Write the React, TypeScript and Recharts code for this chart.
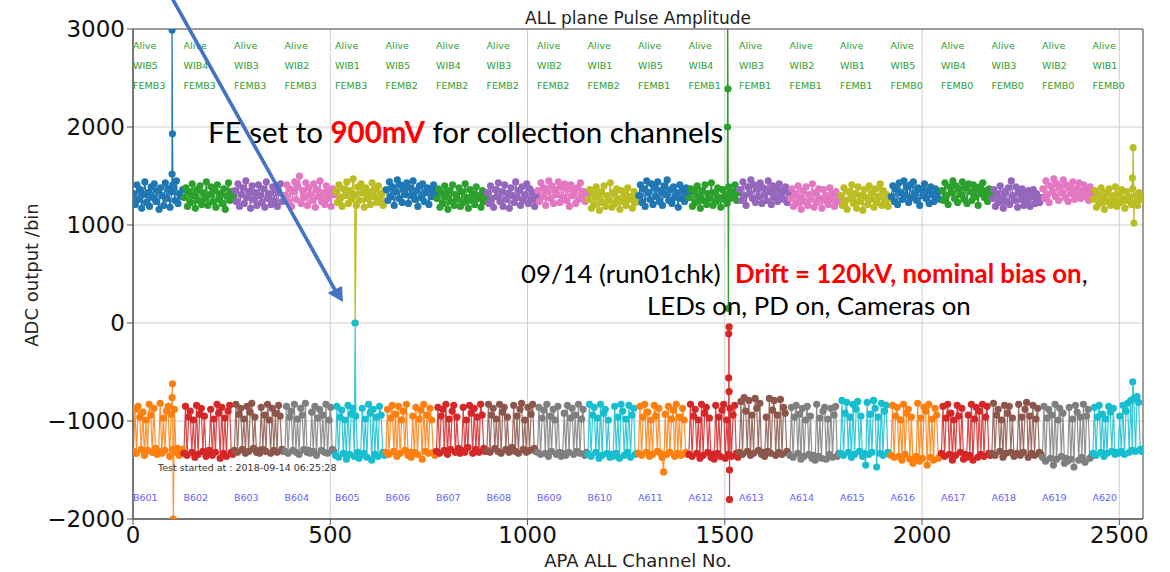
import React from 'react';
import { ComposedChart, Line, Scatter, XAxis, YAxis, CartesianGrid, ReferenceArea } from 'recharts';

// ---------- categories / labels ----------
const segmentStarts = [0, 128, 256, 384, 512, 640, 768, 896, 1024, 1152, 1280, 1408, 1536, 1664, 1792, 1920, 2048, 2176, 2304, 2432];
const statusLabels = ['Alive', 'Alive', 'Alive', 'Alive', 'Alive', 'Alive', 'Alive', 'Alive', 'Alive', 'Alive', 'Alive', 'Alive', 'Alive', 'Alive', 'Alive', 'Alive', 'Alive', 'Alive', 'Alive', 'Alive'];
const wibLabels = ['WIB5', 'WIB4', 'WIB3', 'WIB2', 'WIB1', 'WIB5', 'WIB4', 'WIB3', 'WIB2', 'WIB1', 'WIB5', 'WIB4', 'WIB3', 'WIB2', 'WIB1', 'WIB5', 'WIB4', 'WIB3', 'WIB2', 'WIB1'];
const fembLabels = ['FEMB3', 'FEMB3', 'FEMB3', 'FEMB3', 'FEMB3', 'FEMB2', 'FEMB2', 'FEMB2', 'FEMB2', 'FEMB2', 'FEMB1', 'FEMB1', 'FEMB1', 'FEMB1', 'FEMB1', 'FEMB0', 'FEMB0', 'FEMB0', 'FEMB0', 'FEMB0'];
const apaLabels = ['B601', 'B602', 'B603', 'B604', 'B605', 'B606', 'B607', 'B608', 'B609', 'B610', 'A611', 'A612', 'A613', 'A614', 'A615', 'A616', 'A617', 'A618', 'A619', 'A620'];
const xTicks = [0, 500, 1000, 1500, 2000, 2500];
const yTicks = [-2000, -1000, 0, 1000, 2000, 3000];

const upperColors = ['#1f77b4', '#2ca02c', '#9467bd', '#e377c2', '#bcbd22'];
const lowerColors = ['#ff7f0e', '#d62728', '#8c564b', '#7f7f7f', '#17becf'];

// channel offsets (within a 128-channel FEMB) of the sampled values
const upperOffsets = [2, 6, 10, 14, 18, 22, 26, 30, 34, 38, 42, 46, 50, 54, 58, 62, 66, 70, 74, 78, 82, 86, 90, 94, 98, 102, 106, 110, 114, 118, 122, 126];
const lowerOffsets = [1, 5, 9, 13, 17, 21, 25, 29, 33, 37, 41, 45, 49, 53, 57, 61, 65, 69, 73, 77, 81, 85, 89, 93, 97, 101, 105, 109, 113, 117, 121, 125];

// ---------- upper band (positive pulse amplitude) ----------
const upperValues: number[][] = [
  [1320, 1210, 1410, 1260, 1360, 1170, 1310, 1440, 1230, 1330, 1190, 1390, 1280, 1420, 1240, 1350, 1160, 1380, 1300, 1200, 1430, 1270, 1370, 1180, 1340, 1400, 1250, 1450, 1220, 1320, 1290, 1360],
  [1280, 1380, 1190, 1340, 1230, 1420, 1300, 1170, 1360, 1250, 1400, 1210, 1330, 1270, 1440, 1200, 1310, 1390, 1240, 1350, 1180, 1410, 1260, 1320, 1220, 1370, 1160, 1300, 1430, 1250, 1340, 1290],
  [1350, 1240, 1420, 1190, 1310, 1380, 1220, 1450, 1280, 1340, 1170, 1400, 1260, 1330, 1200, 1410, 1300, 1230, 1370, 1180, 1440, 1270, 1320, 1210, 1390, 1250, 1360, 1190, 1330, 1420, 1240, 1300],
  [1300, 1410, 1230, 1370, 1190, 1340, 1440, 1260, 1390, 1500, 1220, 1350, 1280, 1430, 1200, 1380, 1310, 1250, 1420, 1180, 1360, 1290, 1450, 1240, 1330, 1210, 1400, 1270, 1340, 1190, 1370, 1310],
  [1340, 1230, 1410, 1280, 1190, 1370, 1300, 1440, 1220, 1350, 1260, 1470, 1310, 1200, 1390, 1250, 1420, 1330, 1180, 1380, 1270, 1340, 1210, 1430, 1290, 1360, 1230, 1400, 1260, 1320, 1200, 1350],
  [1360, 1250, 1440, 1290, 1390, 1200, 1340, 1460, 1270, 1410, 1230, 1370, 1310, 1430, 1220, 1380, 1300, 1450, 1260, 1350, 1190, 1400, 1280, 1420, 1240, 1330, 1380, 1210, 1360, 1290, 1410, 1320],
  [1270, 1370, 1180, 1330, 1220, 1400, 1290, 1160, 1350, 1240, 1410, 1200, 1310, 1260, 1380, 1190, 1340, 1230, 1420, 1280, 1170, 1360, 1250, 1320, 1210, 1390, 1270, 1300, 1180, 1350, 1240, 1290],
  [1330, 1220, 1400, 1270, 1180, 1360, 1290, 1430, 1240, 1340, 1190, 1410, 1260, 1320, 1170, 1380, 1300, 1230, 1440, 1280, 1350, 1200, 1390, 1250, 1310, 1420, 1220, 1370, 1260, 1330, 1190, 1300],
  [1350, 1240, 1430, 1290, 1380, 1200, 1340, 1450, 1270, 1400, 1220, 1360, 1310, 1440, 1230, 1390, 1280, 1420, 1250, 1370, 1190, 1410, 1300, 1350, 1220, 1380, 1260, 1430, 1290, 1340, 1240, 1310],
  [1260, 1360, 1170, 1320, 1210, 1390, 1280, 1150, 1340, 1230, 1400, 1190, 1300, 1250, 1430, 1180, 1330, 1220, 1370, 1270, 1160, 1350, 1240, 1310, 1200, 1380, 1260, 1290, 1170, 1340, 1230, 1280],
  [1300, 1410, 1230, 1370, 1190, 1450, 1330, 1260, 1420, 1210, 1380, 1290, 1440, 1240, 1350, 1200, 1400, 1310, 1460, 1250, 1360, 1220, 1390, 1280, 1330, 1180, 1410, 1270, 1350, 1240, 1380, 1310],
  [1280, 1370, 1190, 1340, 1230, 1400, 1290, 1170, 1350, 1250, 1410, 1210, 1320, 1270, 1430, 1200, 1330, 1240, 1380, 1280, 1180, 1360, 1260, 1310, 1220, 1390, 1270, 1340, 1300, 1410, 1250, 1330],
  [1360, 1250, 1440, 1300, 1200, 1390, 1320, 1460, 1270, 1410, 1230, 1370, 1290, 1430, 1220, 1380, 1310, 1250, 1450, 1340, 1210, 1400, 1280, 1360, 1240, 1420, 1300, 1350, 1260, 1390, 1230, 1330],
  [1270, 1370, 1190, 1320, 1220, 1400, 1280, 1160, 1350, 1240, 1390, 1200, 1310, 1260, 1420, 1180, 1330, 1230, 1370, 1270, 1170, 1360, 1250, 1300, 1210, 1380, 1260, 1320, 1190, 1340, 1240, 1280],
  [1300, 1200, 1380, 1250, 1160, 1340, 1270, 1410, 1220, 1320, 1170, 1390, 1240, 1300, 1150, 1360, 1280, 1210, 1400, 1260, 1330, 1180, 1370, 1230, 1290, 1420, 1200, 1350, 1240, 1310, 1190, 1270],
  [1290, 1400, 1240, 1370, 1210, 1430, 1330, 1260, 1450, 1300, 1390, 1230, 1410, 1280, 1440, 1320, 1250, 1380, 1200, 1360, 1300, 1420, 1270, 1350, 1220, 1390, 1310, 1240, 1370, 1290, 1340, 1260],
  [1350, 1250, 1430, 1300, 1210, 1390, 1330, 1450, 1270, 1400, 1230, 1370, 1310, 1440, 1260, 1380, 1220, 1420, 1340, 1250, 1410, 1290, 1360, 1200, 1390, 1320, 1430, 1280, 1350, 1240, 1370, 1310],
  [1270, 1360, 1190, 1320, 1230, 1400, 1280, 1170, 1340, 1240, 1380, 1210, 1450, 1300, 1250, 1390, 1180, 1330, 1260, 1370, 1200, 1310, 1240, 1350, 1190, 1290, 1360, 1220, 1320, 1270, 1230, 1280],
  [1370, 1270, 1450, 1310, 1230, 1400, 1340, 1470, 1290, 1420, 1250, 1390, 1330, 1460, 1280, 1410, 1240, 1380, 1320, 1440, 1260, 1370, 1300, 1430, 1270, 1350, 1410, 1290, 1360, 1250, 1390, 1320],
  [1260, 1350, 1180, 1310, 1220, 1380, 1270, 1160, 1330, 1240, 1370, 1200, 1300, 1250, 1390, 1190, 1320, 1230, 1360, 1270, 1170, 1340, 1250, 1290, 1210, 1370, 1240, 1300, 1200, 1330, 1260, 1280],
];

// ---------- lower band (negative pulse amplitude) ----------
const lowerValues: number[][] = [
  [-1310, -880, -1330, -850, -960, -1290, -910, -1350, -990, -1300, -830, -940, -1320, -870, -1280, -1340, -1310, -820, -1330, -970, -1300, -900, -850, -1360, -930, -1290, -880, -1320, -1280, -1350, -1300, -1290],
  [-1330, -850, -1350, -960, -900, -1320, -990, -1370, -840, -1340, -930, -870, -1310, -950, -1360, -1330, -1300, -880, -1350, -980, -1320, -830, -920, -1380, -860, -1330, -970, -1360, -900, -840, -1320, -1340],
  [-1300, -830, -1320, -930, -870, -1290, -980, -1330, -850, -1310, -910, -820, -1280, -960, -1320, -1300, -1330, -860, -1290, -940, -1310, -830, -990, -1330, -870, -1300, -920, -1320, -840, -950, -1290, -1310],
  [-1310, -850, -1330, -960, -900, -1300, -830, -1320, -980, -1340, -870, -940, -1290, -820, -1320, -1300, -1330, -910, -1310, -850, -1350, -970, -880, -1300, -940, -1320, -830, -1330, -990, -860, -1290, -1310],
  [-1350, -850, -1370, -960, -890, -1330, -990, -1390, -840, -1340, -930, -870, -1360, -950, -1320, -1380, -1350, -870, -1330, -980, -1370, -830, -920, -1400, -880, -1340, -960, -1360, -850, -940, -1320, -1350],
  [-1320, -880, -1340, -970, -840, -1310, -930, -1360, -850, -1330, -990, -900, -1300, -830, -1350, -1320, -1370, -950, -1320, -860, -1340, -980, -890, -1390, -830, -1310, -940, -1330, -870, -990, -1320, -1350],
  [-1310, -860, -1330, -950, -880, -1300, -830, -1340, -980, -1290, -900, -840, -1320, -960, -1280, -1330, -1300, -860, -1320, -990, -1270, -840, -920, -1330, -870, -1290, -960, -1320, -830, -940, -1280, -1310],
  [-1300, -830, -1320, -940, -870, -1280, -980, -1310, -830, -1330, -910, -860, -1290, -960, -1320, -1300, -1270, -840, -1310, -950, -1330, -880, -820, -1290, -990, -1320, -860, -1300, -930, -830, -1280, -1310],
  [-1320, -860, -1340, -970, -890, -1330, -830, -1360, -950, -1310, -880, -990, -1340, -850, -1320, -1360, -1330, -920, -1350, -840, -1320, -970, -870, -1340, -940, -1310, -830, -1330, -980, -880, -1350, -1320],
  [-1340, -830, -1360, -940, -860, -1320, -970, -1380, -830, -1350, -920, -880, -1330, -990, -1370, -1340, -1360, -850, -1330, -960, -1380, -830, -900, -1350, -980, -1320, -840, -1370, -940, -870, -1340, -1330],
  [-1330, -850, -1350, -960, -830, -1320, -910, -1360, -990, -1340, -840, -950, -1310, -870, -1330, -1370, -1520, -930, -1340, -850, -1320, -980, -890, -1360, -830, -1330, -960, -1350, -870, -990, -1320, -1340],
  [-1340, -830, -1360, -950, -880, -1330, -990, -1380, -830, -1350, -920, -860, -1320, -970, -1370, -1340, -1390, -840, -1330, -960, -1360, -890, -830, -1380, -990, -1340, -870, -1360, -940, -840, -1330, -1370],
  [-1320, -800, -1340, -760, -900, -1310, -790, -1350, -940, -1330, -770, -870, -1300, -820, -1340, -1320, -1360, -960, -1310, -770, -1330, -890, -790, -1350, -940, -1320, -780, -1340, -860, -920, -1310, -1330],
  [-1350, -860, -1370, -960, -840, -1330, -930, -1390, -870, -1360, -990, -850, -1340, -950, -1380, -1350, -1400, -830, -1360, -970, -1380, -900, -860, -1390, -980, -1340, -870, -1370, -940, -850, -1360, -1330],
  [-1330, -790, -1350, -920, -810, -1320, -960, -1370, -830, -1340, -880, -800, -1310, -950, -1360, -1330, -1450, -810, -1340, -930, -1320, -790, -870, -1470, -960, -1330, -820, -1350, -900, -840, -1320, -1340],
  [-1350, -840, -1370, -950, -860, -1360, -990, -1400, -830, -1340, -920, -880, -1390, -960, -1430, -1380, -1360, -820, -1410, -970, -1380, -860, -900, -1450, -830, -1370, -980, -1400, -870, -940, -1380, -1360],
  [-1330, -850, -1360, -970, -830, -1340, -920, -1400, -990, -1350, -840, -950, -1320, -870, -1390, -1340, -1370, -940, -1350, -830, -1400, -980, -860, -1370, -900, -1340, -830, -1360, -960, -850, -1330, -1350],
  [-1330, -820, -1350, -940, -880, -1310, -990, -1370, -840, -1330, -920, -850, -1320, -970, -1360, -1340, -1330, -830, -1350, -960, -1320, -880, -810, -1370, -950, -1330, -840, -1350, -980, -870, -1320, -1340],
  [-1370, -850, -1410, -970, -880, -1380, -940, -1450, -830, -1390, -990, -870, -1360, -920, -1430, -1380, -1410, -860, -1390, -980, -1470, -840, -910, -1400, -960, -1370, -830, -1420, -950, -880, -1380, -1360],
  [-1330, -860, -1350, -960, -840, -1320, -930, -1360, -980, -1330, -850, -910, -1310, -870, -1340, -1320, -1330, -950, -1310, -840, -1340, -900, -820, -1320, -790, -1300, -770, -1310, -750, -810, -1290, -1310],
];

// ---------- isolated spikes: [segment, channel, value] ----------
const upperSpikes: [number, number, number][] = [
  [0, 99, 1520], [0, 99, 2990], [0, 100, 1930], [0, 101, 1410],
  [4, 563, 0],
  [11, 1507, 2000], [11, 1507, 3600], [11, 1508, 2390], [11, 1509, 150],
  [19, 2533, 1480], [19, 2535, 1790], [19, 2537, 1020],
];
const lowerSpikes: [number, number, number][] = [
  [0, 99, -760], [0, 100, -620], [0, 102, -2000],
  [4, 563, 0],
  [11, 1510, -560], [11, 1510, -110], [11, 1511, -40], [11, 1511, -700], [11, 1512, -1500], [11, 1512, -1800],
  [19, 2534, -600],
];

type Pt = { x: number; v: number };

function buildSeries(values: number[], offsets: number[], seg: number, spikes: [number, number, number][]): Pt[] {
  const pts: Pt[] = values.map((v, i) => ({ x: segmentStarts[seg] + offsets[i], v }));
  spikes.filter((s) => s[0] === seg).forEach((s) => pts.push({ x: s[1], v: s[2] }));
  return pts.sort((a, b) => a.x - b.x);
}

const GREEN_TXT = '#2ca02c';
const BLUE_TXT = '#5f5fff';

const labelPoints: any[] = [];
segmentStarts.forEach((s, i) => {
  labelPoints.push({ x: s, v: 2830, label: statusLabels[i], color: GREEN_TXT });
  labelPoints.push({ x: s, v: 2625, label: wibLabels[i], color: GREEN_TXT });
  labelPoints.push({ x: s, v: 2420, label: fembLabels[i], color: GREEN_TXT });
  labelPoints.push({ x: s, v: -1776, label: apaLabels[i], color: BLUE_TXT });
});

const TextMark = (props: any) => {
  const { cx, cy, payload } = props;
  if (cx == null || cy == null) return null;
  return (
    <text x={cx} y={cy} dominantBaseline="central" fill={payload.color} fontSize={9.5} fontFamily="DejaVu Sans">
      {payload.label}
    </text>
  );
};

const fmtY = (v: number) => (v < 0 ? '\u2212' + Math.abs(v) : String(v));

export default function App() {
  const lines: React.ReactNode[] = [];
  segmentStarts.forEach((_, seg) => {
    const uc = upperColors[seg % 5];
    const lc = lowerColors[seg % 5];
    lines.push(
      <Line
        key={'u' + seg}
        data={buildSeries(upperValues[seg], upperOffsets, seg, upperSpikes)}
        dataKey="v"
        type="linear"
        stroke={uc}
        strokeWidth={1.3}
        dot={{ r: 3.6, fill: uc, stroke: uc, strokeWidth: 0 }}
        activeDot={false}
        isAnimationActive={false}
      />
    );
    lines.push(
      <Line
        key={'l' + seg}
        data={buildSeries(lowerValues[seg], lowerOffsets, seg, lowerSpikes)}
        dataKey="v"
        type="linear"
        stroke={lc}
        strokeWidth={1.2}
        strokeOpacity={0.85}
        dot={{ r: 3.6, fill: lc, stroke: lc, strokeWidth: 0 }}
        activeDot={false}
        isAnimationActive={false}
      />
    );
  });

  const tickStyle = { fontSize: 23, fill: '#111', fontFamily: 'DejaVu Sans' };

  return (
    <div style={{ position: 'absolute', left: 0, top: 0, width: 1170, height: 572, background: '#fff' }}>
      <ComposedChart width={1170} height={572} margin={{ top: 29, right: 27, bottom: 0, left: 0 }}>
        <CartesianGrid stroke="#cfcfcf" strokeWidth={1} />
        <XAxis
          dataKey="x"
          type="number"
          domain={[0, 2560]}
          ticks={xTicks}
          interval={0}
          allowDataOverflow
          height={53}
          tick={tickStyle}
          tickSize={6}
          stroke="#555"
        />
        <YAxis
          type="number"
          domain={[-2000, 3000]}
          ticks={yTicks}
          interval={0}
          allowDataOverflow
          width={133}
          tick={tickStyle}
          tickSize={6}
          tickFormatter={fmtY}
          stroke="#555"
        />
        {lines}
        <Scatter data={labelPoints} dataKey="v" shape={TextMark} isAnimationActive={false} />
        <ReferenceArea x1={0} x2={2560} y1={-2000} y2={3000} fill="none" fillOpacity={0} stroke="#555" strokeWidth={1} />
      </ComposedChart>
      <svg
        width={1170}
        height={572}
        style={{ position: 'absolute', left: 0, top: 0, pointerEvents: 'none' }}
      >
        <text x={638} y={24} textAnchor="middle" fontFamily="DejaVu Sans" fontSize={17} fill="#222">
          ALL plane Pulse Amplitude
        </text>
        <text x={638} y={567} textAnchor="middle" fontFamily="DejaVu Sans" fontSize={18} fill="#222">
          APA ALL Channel No.
        </text>
        <text transform="translate(37.5,275) rotate(-90)" textAnchor="middle" fontFamily="DejaVu Sans" fontSize={18} fill="#222">
          ADC output /bin
        </text>
        <text x={158} y={471} fontFamily="DejaVu Sans" fontSize={9.5} fill="#333">
          Test started at : 2018-09-14 06:25:28
        </text>
        <text x={208} y={143} fontFamily="Lato" fontSize={29.5} fill="#000">
          {'FE set to '}
          <tspan fill="#ff0000" fontWeight="bold">900mV</tspan>
          {' for collection channels'}
        </text>
        <text x={521} y={283} fontFamily="Lato" fontSize={25.8} fill="#000">
          {'09/14 (run01chk)'}
          <tspan x={735} fill="#ff0000" fontWeight="bold">Drift = 120kV, nominal bias on</tspan>
          {','}
        </text>
        <text x={647} y={315} fontFamily="Lato" fontSize={25.8} fill="#000">
          LEDs on, PD on, Cameras on
        </text>
        <line x1={172} y1={-2} x2={335} y2={290} stroke="#4472c4" strokeWidth={3.6} />
        <polygon points="343,302 327.5,293 342,286" fill="#4472c4" />
      </svg>
    </div>
  );
}
